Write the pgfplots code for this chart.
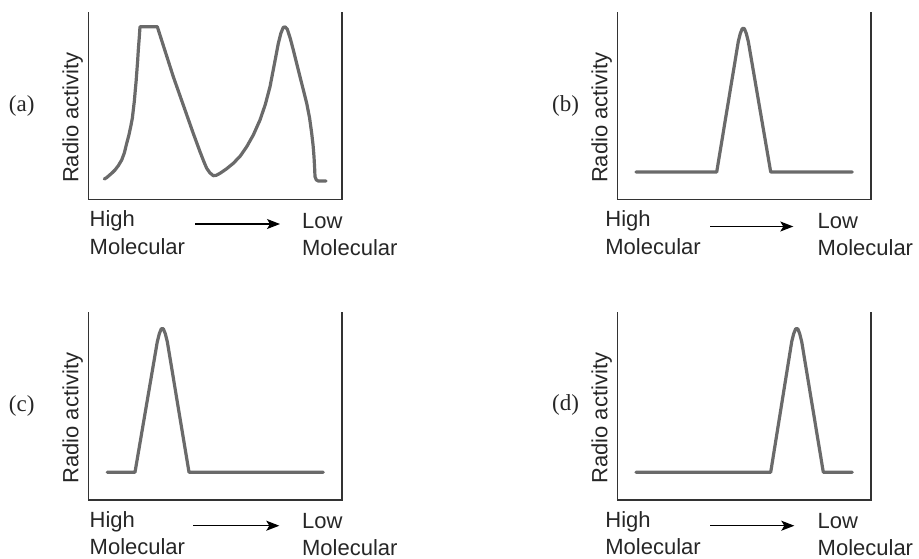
\documentclass[border=0pt]{standalone}
\usepackage{pgfplots}
\pgfplotsset{compat=1.18}
\usepackage{fontspec}
\setmainfont{Liberation Sans}
\newfontfamily\serif{Liberation Serif}
\usetikzlibrary{arrows.meta}
\definecolor{curve}{HTML}{6A6A6A}
\definecolor{frame}{HTML}{333333}
\definecolor{txt}{HTML}{262626}

\pgfplotstableread{
x y
16.0 20.5
18.5 22.0
21.0 24.2
24.0 26.8
26.7 29.5
30.0 33.8
33.4 39.5
36.0 46.5
38.4 56.2
40.5 64.0
42.4 72.8
44.0 81.0
45.0 89.5
46.1 99.0
47.0 109.5
47.8 118.0
48.4 126.2
49.3 138.0
50.0 149.5
50.9 161.0
51.7 172.8
69.0 172.8
85.0 122.8
105.0 66.0
111.7 47.8
115.5 38.0
118.4 31.2
121.5 26.8
125.0 23.8
128.0 24.2
131.7 26.2
138.0 30.5
145.0 36.2
152.0 43.5
158.4 52.8
165.0 64.5
171.7 79.5
177.0 95.0
181.7 112.8
186.0 135.0
190.0 156.0
192.5 166.0
195.0 172.2
197.0 172.5
199.0 170.2
202.0 161.0
205.0 149.5
211.7 122.8
218.4 96.2
221.2 82.0
223.4 66.2
224.8 54.0
225.7 42.8
226.3 32.0
226.7 22.8
228.0 19.6
230.0 18.5
237.7 18.5
}\dataA

\pgfplotstableread{
x y
18.7 27.5
99.4 27.5
121.0 158.0
123.0 166.0
125.0 171.0
127.0 171.0
129.0 166.0
131.0 158.0
153.4 27.5
235.0 27.5
}\dataB

\pgfplotstableread{
x y
19.0 27.5
46.7 27.5
69.0 158.0
71.0 166.0
73.0 171.0
75.0 171.0
77.0 166.0
79.0 158.0
100.7 27.5
235.0 27.5
}\dataC

\pgfplotstableread{
x y
18.7 27.5
153.4 27.5
174.4 158.0
176.4 166.0
178.4 171.0
180.4 171.0
182.4 166.0
184.4 158.0
206.0 27.5
235.0 27.5
}\dataD

\pgfplotsset{
  panel/.style={
    scale only axis, width=126.7pt, height=93.75pt,
    xmin=0, xmax=253.4, ymin=0, ymax=187.5,
    hide axis, anchor=south west, clip=false,
  },
  curvestyle/.style={color=curve, line width=1.6pt, line join=round, line cap=round, no markers},
}
\newcommand\frameit{\draw[frame, line width=0.8pt] (rel axis cs:0,1) -- (rel axis cs:0,0) -- (rel axis cs:1,0) -- (rel axis cs:1,1);}

\begin{document}
\begin{tikzpicture}[x=0.5pt, y=-0.5pt, font=\fontsize{11}{13}\selectfont, text=txt]
\useasboundingbox (0,0) rectangle (919,558);

\begin{axis}[panel, at={(44.15pt,-99.75pt)}]
\frameit
\addplot[curvestyle] table {\dataA};
\end{axis}
\begin{axis}[panel, at={(308.65pt,-99.75pt)}]
\frameit
\addplot[curvestyle] table {\dataB};
\end{axis}
\begin{axis}[panel, at={(44.15pt,-249.85pt)}]
\frameit
\addplot[curvestyle] table {\dataC};
\end{axis}
\begin{axis}[panel, at={(308.65pt,-249.85pt)}]
\frameit
\addplot[curvestyle] table {\dataD};
\end{axis}

% y labels
\foreach \xx/\yy in {78.3/183.3, 607.3/183.3, 78.3/484, 607.3/484}
  \node[rotate=90, anchor=base west, inner sep=0pt] at (\xx,\yy) {Radio activity};

% panel letters
\node[inner sep=0pt, font=\serif\fontsize{11.5}{13}\selectfont] at (21.7,106) {(a)};
\node[inner sep=0pt, font=\serif\fontsize{11.5}{13}\selectfont] at (565.5,106) {(b)};
\node[inner sep=0pt, font=\serif\fontsize{11.5}{13}\selectfont] at (21.7,405.7) {(c)};
\node[inner sep=0pt, font=\serif\fontsize{11.5}{13}\selectfont] at (565.5,405) {(d)};

% x labels
\foreach \hx/\hy/\lx/\ly/\ax/\bx/\ay in {89.3/226.7/301.7/228.5/195/280/224, 605/226.7/817.3/228.5/710/793.3/226.5, 89.3/527.3/301.7/528.5/193.3/279.3/525.7, 605/527.3/817.3/528.5/710/794.3/525.7}{
  \node[anchor=base west, inner sep=0pt] at (\hx,\hy) {High};
  \node[anchor=base west, inner sep=0pt] at (\hx,\hy+27.3) {Molecular};
  \node[anchor=base west, inner sep=0pt] at (\lx,\ly) {Low};
  \node[anchor=base west, inner sep=0pt] at (\lx,\ly+27.3) {Molecular};
  \draw[black, line width=0.6pt, -{Stealth[length=6.5pt, width=5pt, inset=1.5pt]}] (\ax,\ay) -- (\bx,\ay);
}
\end{tikzpicture}
\end{document}
